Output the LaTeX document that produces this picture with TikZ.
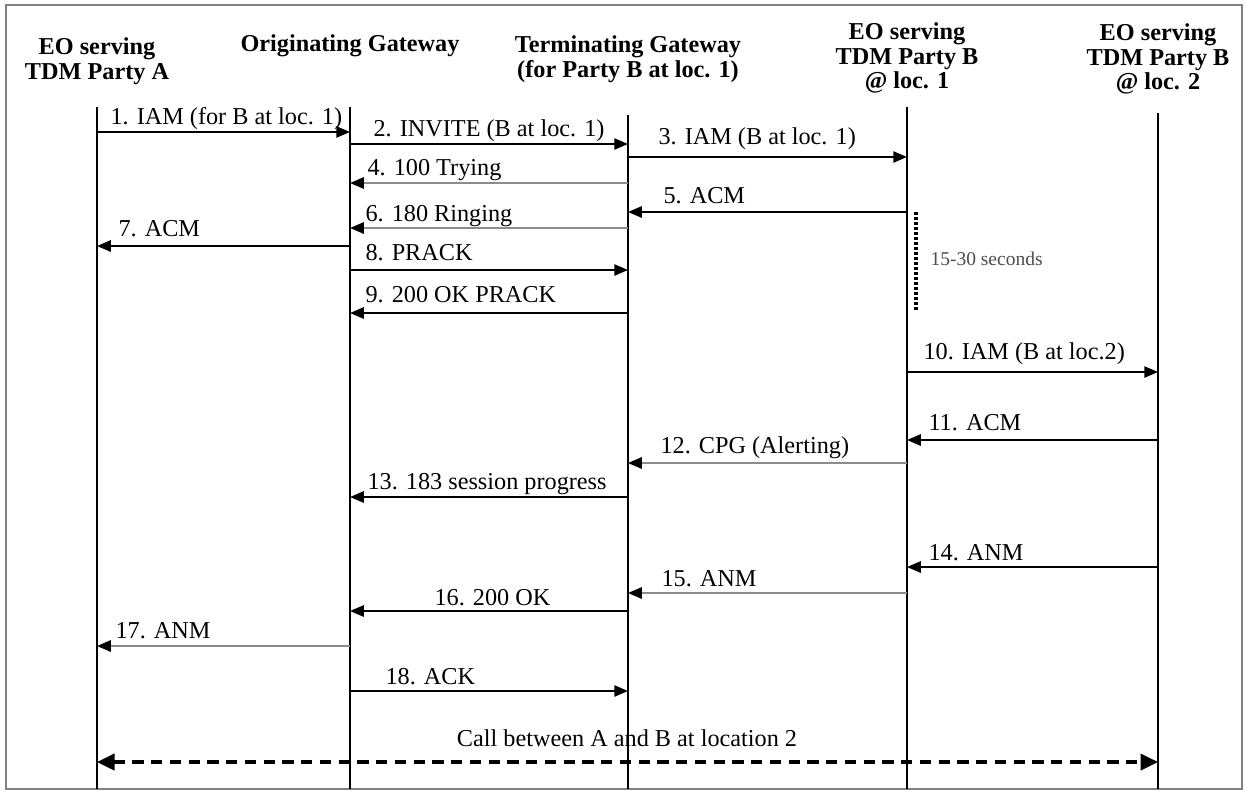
\documentclass[tikz,border=0pt]{standalone}
\usepackage{fontspec}
\setmainfont{Liberation Serif}
\usetikzlibrary{arrows.meta, calc}

\begin{document}
\begin{tikzpicture}[
    x=0.4pt, y=-0.4pt,
    actor/.style={font=\bfseries\fontsize{9.7}{9.8}\selectfont, align=center, inner sep=0pt},
    lbl/.style={font=\fontsize{9.7}{11}\selectfont, inner sep=0pt, anchor=base west},
    note/.style={font=\fontsize{7.8}{9}\selectfont, text=black!70, inner sep=0pt, anchor=base west},
    life/.style={line width=0.7pt},
    msg/.style={-{Triangle[length=5.5pt, width=4.5pt]}, line width=0.75pt},
    faint/.style={msg, draw=black!45, -{Triangle[length=5.5pt, width=4.5pt, color=black]}},
    wait/.style={line width=1.3pt, dash pattern=on 1pt off 1pt},
    call/.style={{Triangle[length=7pt, width=6.5pt]}-{Triangle[length=7pt, width=6.5pt]}, line width=1.3pt, dash pattern=on 4.5pt off 3pt},
    frame/.style={draw=black!50, line width=1pt}
]
\useasboundingbox (0,0) rectangle (1247,795);

% Frame
\draw[frame] (6,5) rectangle (1242,789);

% Nodes
\node[actor] (hA) at (97,61) {EO serving\\TDM Party A};
\node[actor] (hOG) at (350,46) {Originating Gateway};
\node[actor] (hTG) at (628,59) {Terminating Gateway\\(for Party B at loc. 1)};
\node[actor] (hB1) at (907,58) {EO serving\\TDM Party B\\@ loc. 1};
\node[actor] (hB2) at (1158,59) {EO serving\\TDM Party B\\@ loc. 2};

% Lifelines
\draw[life] (hA |- 0,107) -- (hA |- 0,789);
\draw[life] (hOG |- 0,107) -- (hOG |- 0,789);
\draw[life] (hTG |- 0,115) -- (hTG |- 0,789);
\draw[life] (hB1 |- 0,107) -- (hB1 |- 0,789);
\draw[life] (hB2 |- 0,113) -- (hB2 |- 0,789);

% Labels
\node[lbl] (t1) at (110,124) {1. IAM (for B at loc. 1)};
\node[lbl] (t2) at (373,136) {2. INVITE (B at loc. 1)};
\node[lbl] (t3) at (658,144) {3. IAM (B at loc. 1)};
\node[lbl] (t4) at (367,175) {4. 100 Trying};
\node[lbl] (t5) at (663,203) {5. ACM};
\node[lbl] (t6) at (365,221) {6. 180 Ringing};
\node[lbl] (t7) at (118,236) {7. ACM};
\node[lbl] (t8) at (365,260) {8. PRACK};
\node[lbl] (t9) at (365,302) {9. 200 OK PRACK};
\node[lbl] (t10) at (923,359) {10. IAM (B at loc.2)};
\node[lbl] (t11) at (928,430) {11. ACM};
\node[lbl] (t12) at (660,453) {12. CPG (Alerting)};
\node[lbl] (t13) at (367,489) {13. 183 session progress};
\node[lbl] (t14) at (928,560) {14. ANM};
\node[lbl] (t15) at (661,586) {15. ANM};
\node[lbl] (t16) at (434,605) {16. 200 OK};
\node[lbl] (t17) at (115,638) {17. ANM};
\node[lbl] (t18) at (385,684) {18. ACK};
\node[lbl, anchor=base] (tcall) at (627,746) {Call between A and B at location 2};
\node[note] (twait) at (930,265) {15-30 seconds};

% Arrows
\draw[msg] (hA |- 0,132) -- (hOG |- 0,132);
\draw[msg] (hOG |- 0,144) -- (hTG |- 0,144);
\draw[msg] (hTG |- 0,157) -- (hB1 |- 0,157);
\draw[faint] (hTG |- 0,183) -- (hOG |- 0,183);
\draw[msg] (hB1 |- 0,212) -- (hTG |- 0,212);
\draw[faint] (hTG |- 0,228) -- (hOG |- 0,228);
\draw[msg] (hOG |- 0,246) -- (hA |- 0,246);
\draw[msg] (hOG |- 0,270) -- (hTG |- 0,270);
\draw[msg] (hTG |- 0,313) -- (hOG |- 0,313);
\draw[msg] (hB1 |- 0,372) -- (hB2 |- 0,372);
\draw[msg] (hB2 |- 0,440) -- (hB1 |- 0,440);
\draw[faint] (hB1 |- 0,463) -- (hTG |- 0,463);
\draw[msg] (hTG |- 0,497) -- (hOG |- 0,497);
\draw[msg] (hB2 |- 0,567) -- (hB1 |- 0,567);
\draw[faint] (hB1 |- 0,593) -- (hTG |- 0,593);
\draw[msg] (hTG |- 0,611) -- (hOG |- 0,611);
\draw[faint] (hOG |- 0,646) -- (hA |- 0,646);
\draw[msg] (hOG |- 0,691) -- (hTG |- 0,691);
\draw[call] (hA |- 0,762) -- (hB2 |- 0,762);

% Waiting time
\coordinate (w1) at (916,212);
\coordinate (w2) at (916,312);
\draw[wait] (w1) -- (w2);

\end{tikzpicture}
\end{document}
